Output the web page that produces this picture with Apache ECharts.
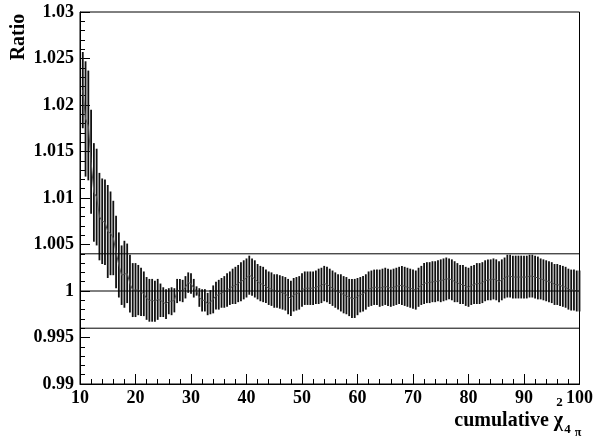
<!DOCTYPE html>
<html>
<head>
<meta charset="utf-8">
<script src="https://cdn.jsdelivr.net/npm/echarts@6/dist/echarts.min.js"></script>
<style>
  html, body { margin: 0; padding: 0; background: #fff; }
  #chart { width: 596px; height: 443px; }
</style>
</head>
<body>
<div id="chart"></div>
<script>
// Bin centres of the cumulative chi2 scan (first bin and step width)
const binStart = 10.5;
const binWidth = 0.5;

// Ratio per bin
const ratio = [
  1.0216, 1.0185, 1.0178, 1.0139, 1.0106, 1.0101, 1.0080, 1.0075, 1.0074, 1.0064,
  1.0062, 1.0057, 1.0042, 1.0028, 1.0017, 1.0018, 1.0019, 1.0008, 1.0001, 1.0001,
  1.0001, 0.9999, 0.9997, 0.9992, 0.9990, 0.9990, 0.9989, 0.9991, 0.9990, 0.9988,
  0.9986, 0.9989, 0.9989, 0.9990, 1.0000, 1.0001, 1.0000, 1.0004, 1.0009, 1.0008,
  1.0003, 1.0000, 0.9993, 0.9990, 0.9990, 0.9986, 0.9988, 0.9991, 0.9995, 0.9996,
  0.9998, 0.9999, 1.0001, 1.0003, 1.0005, 1.0006, 1.0008, 1.0010, 1.0012, 1.0014,
  1.0017, 1.0015, 1.0013, 1.0010, 1.0008, 1.0007, 1.0005, 1.0003, 1.0002, 1.0000,
  1.0000, 0.9999, 0.9998, 0.9997, 0.9994, 0.9992, 0.9996, 0.9997, 0.9998, 1.0001,
  1.0003, 1.0003, 1.0003, 1.0003, 1.0004, 1.0005, 1.0006, 1.0008, 1.0007, 1.0005,
  1.0003, 1.0001, 0.9999, 0.9998, 0.9996, 0.9995, 0.9993, 0.9992, 0.9992, 0.9994,
  0.9996, 0.9997, 0.9999, 1.0002, 1.0003, 1.0004, 1.0004, 1.0003, 1.0004, 1.0005,
  1.0004, 1.0003, 1.0004, 1.0005, 1.0006, 1.0006, 1.0005, 1.0004, 1.0003, 1.0002,
  1.0001, 1.0004, 1.0006, 1.0008, 1.0009, 1.0009, 1.0010, 1.0010, 1.0011, 1.0011,
  1.0012, 1.0013, 1.0013, 1.0012, 1.0010, 1.0009, 1.0007, 1.0007, 1.0005, 1.0004,
  1.0006, 1.0007, 1.0008, 1.0008, 1.0009, 1.0011, 1.0012, 1.0012, 1.0013, 1.0012,
  1.0010, 1.0012, 1.0014, 1.0016, 1.0016, 1.0015, 1.0015, 1.0015, 1.0015, 1.0015,
  1.0015, 1.0016, 1.0016, 1.0015, 1.0014, 1.0013, 1.0012, 1.0011, 1.0010, 1.0009,
  1.0007, 1.0007, 1.0006, 1.0005, 1.0004, 1.0002, 1.0001, 1.0001, 1.0000, 1.0000
];

// Symmetric uncertainty per bin
const ratioErr = [
  0.0041, 0.0062, 0.0059, 0.0056, 0.0053, 0.0052, 0.0047, 0.0046, 0.0046, 0.0050,
  0.0045, 0.0040, 0.0039, 0.0035, 0.0032, 0.0036, 0.0032, 0.0031, 0.0029, 0.0029,
  0.0027, 0.0026, 0.0024, 0.0023, 0.0023, 0.0023, 0.0022, 0.0022, 0.0018, 0.0016,
  0.0016, 0.0014, 0.0015, 0.0013, 0.0013, 0.0012, 0.0012, 0.0012, 0.0011, 0.0011,
  0.0010, 0.0005, 0.0010, 0.0012, 0.0012, 0.0012, 0.0013, 0.0015, 0.0015, 0.0016,
  0.0016, 0.0017, 0.0018, 0.0018, 0.0019, 0.0020, 0.0020, 0.0021, 0.0021, 0.0021,
  0.0021, 0.0020, 0.0020, 0.0019, 0.0019, 0.0019, 0.0018, 0.0018, 0.0018, 0.0018,
  0.0018, 0.0018, 0.0018, 0.0018, 0.0019, 0.0019, 0.0018, 0.0018, 0.0018, 0.0018,
  0.0018, 0.0018, 0.0018, 0.0018, 0.0018, 0.0019, 0.0019, 0.0019, 0.0019, 0.0019,
  0.0019, 0.0019, 0.0019, 0.0020, 0.0020, 0.0020, 0.0020, 0.0021, 0.0021, 0.0020,
  0.0019, 0.0019, 0.0019, 0.0019, 0.0019, 0.0019, 0.0019, 0.0020, 0.0020, 0.0020,
  0.0020, 0.0020, 0.0020, 0.0020, 0.0020, 0.0021, 0.0021, 0.0021, 0.0021, 0.0021,
  0.0021, 0.0021, 0.0021, 0.0022, 0.0022, 0.0022, 0.0022, 0.0022, 0.0022, 0.0023,
  0.0023, 0.0023, 0.0022, 0.0022, 0.0022, 0.0021, 0.0021, 0.0021, 0.0021, 0.0021,
  0.0021, 0.0021, 0.0022, 0.0022, 0.0022, 0.0022, 0.0022, 0.0022, 0.0022, 0.0022,
  0.0022, 0.0022, 0.0022, 0.0023, 0.0023, 0.0023, 0.0023, 0.0023, 0.0023, 0.0023,
  0.0023, 0.0023, 0.0023, 0.0023, 0.0023, 0.0022, 0.0022, 0.0022, 0.0022, 0.0022,
  0.0022, 0.0022, 0.0022, 0.0022, 0.0022, 0.0022, 0.0022, 0.0022, 0.0022, 0.0022
];

// Horizontal reference levels
const refLevels = [0.996, 1, 1.004];

// Axis ranges and major steps
const xRange = [10, 100], xStep = 10;
const yRange = [0.99, 1.03], yStep = 0.005;

const binX = ratio.map((_, i) => binStart + i * binWidth);
const centrePts = ratio.map((v, i) => [binX[i], v]);
const errPts = ratio.map((v, i) => [binX[i], v - ratioErr[i], v + ratioErr[i]]);

const serif = '"Liberation Serif", "DejaVu Serif", serif';
const labelStyle = { fontFamily: serif, fontWeight: 'bold', fontSize: 18, color: '#000' };

const chart = echarts.init(document.getElementById('chart'), null, { renderer: 'canvas' });

// One full-width horizontal line per reference level
const levelSeries = refLevels.map(v => ({
  type: 'line',
  silent: true,
  data: [[xRange[0], v], [xRange[1], v]],
  showSymbol: false,
  symbol: 'none',
  lineStyle: { color: '#000', width: 1 },
  z: 4
}));

chart.setOption({
  animation: false,
  backgroundColor: '#fff',
  grid: {
    left: 80, right: 13, top: 12, bottom: 59,
    show: true, borderColor: '#000', borderWidth: 1, backgroundColor: 'transparent'
  },
  xAxis: {
    type: 'value',
    min: xRange[0], max: xRange[1], interval: xStep,
    axisLine: { show: true, onZero: false, lineStyle: { color: '#000', width: 1 } },
    axisTick: { show: true, inside: true, length: 10, lineStyle: { color: '#000', width: 1 } },
    minorTick: { show: true, splitNumber: 5, length: 5, lineStyle: { color: '#000', width: 1 } },
    splitLine: { show: false },
    axisLabel: Object.assign({ margin: 5 }, labelStyle)
  },
  yAxis: {
    type: 'value',
    min: yRange[0], max: yRange[1], interval: yStep,
    axisLine: { show: true, onZero: false, lineStyle: { color: '#000', width: 1 } },
    axisTick: { show: true, inside: true, length: 10, lineStyle: { color: '#000', width: 1 } },
    minorTick: { show: true, splitNumber: 5, length: 5, lineStyle: { color: '#000', width: 1 } },
    splitLine: { show: false },
    axisLabel: Object.assign({
      margin: 6,
      formatter: v => String(parseFloat(v.toFixed(4)))
    }, labelStyle)
  },
  series: [
    {
      type: 'custom',
      name: 'errors',
      silent: true,
      data: errPts,
      encode: { x: 0, y: [1, 2] },
      renderItem: (params, api) => {
        const lo = api.coord([api.value(0), api.value(1)]);
        const hi = api.coord([api.value(0), api.value(2)]);
        return {
          type: 'line',
          shape: { x1: lo[0], y1: lo[1], x2: hi[0], y2: hi[1] },
          style: { stroke: '#111', lineWidth: 1.8 }
        };
      },
      z: 2
    },
    {
      type: 'line',
      name: 'ratio',
      silent: true,
      data: centrePts,
      showSymbol: false,
      symbol: 'none',
      lineStyle: { color: '#555', width: 1 },
      z: 3
    }
  ].concat(levelSeries),
  graphic: [
    {
      type: 'text', x: 19, y: 37, rotation: Math.PI / 2,
      style: { text: 'Ratio', font: 'bold 20px ' + serif, fill: '#000', align: 'center', verticalAlign: 'middle' }
    },
    {
      type: 'text', x: 563, y: 421,
      style: { text: 'cumulative χ', font: 'bold 20px ' + serif, fill: '#000', align: 'right', verticalAlign: 'middle' }
    },
    {
      type: 'text', x: 559.5, y: 403,
      style: { text: '2', font: 'bold 13px ' + serif, fill: '#000', align: 'center', verticalAlign: 'middle' }
    },
    {
      type: 'text', x: 567.5, y: 430,
      style: { text: '4', font: 'bold 13px ' + serif, fill: '#000', align: 'center', verticalAlign: 'middle' }
    },
    {
      type: 'text', x: 578, y: 433,
      style: { text: 'π', font: 'bold 12px ' + serif, fill: '#000', align: 'center', verticalAlign: 'middle' }
    }
  ]
});
</script>
</body>
</html>
